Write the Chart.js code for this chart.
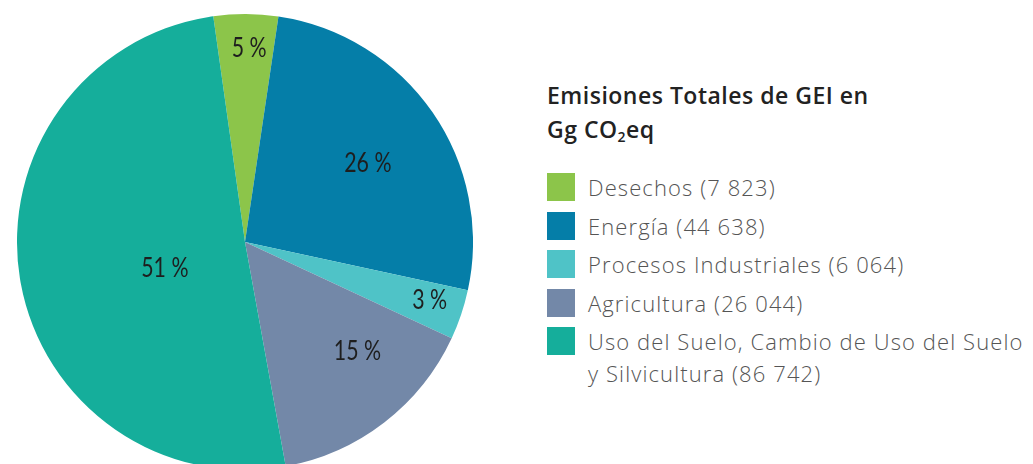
<!DOCTYPE html>
<html>
<head>
<meta charset="utf-8">
<script src="https://cdn.jsdelivr.net/npm/chart.js@4.4.0/dist/chart.umd.min.js"></script>
<style>
    html, body { margin: 0; padding: 0; background: #fff; overflow: hidden; width: 1033px; height: 464px; }
    #pieBox { position: absolute; left: 17px; top: 14px; width: 456px; height: 456px; }
    #legend { position: absolute; left: 547px; top: 78px; font-family: "Open Sans", sans-serif; }
    #legend .title { font-size: 23px; line-height: 34px; font-weight: 600; color: #222; margin-bottom: 27px; letter-spacing: 0.5px; white-space: nowrap; }
    #legend .title sub { font-size: 14px; vertical-align: -4px; line-height: 0; }
    #legend .row { display: flex; align-items: flex-start; height: 38.5px; }
    #legend .box { width: 28px; height: 28px; flex: none; margin-right: 13px; }
    #legend .txt { font-size: 22px; line-height: 32px; font-weight: 300; color: #555; white-space: pre; margin-top: -2px; letter-spacing: 1.1px; }
</style>
</head>
<body>
<div id="pieBox"><canvas id="pieCanvas"></canvas></div>
<div id="legend"></div>
<script>
    // ---------------- Data ---------------------------------------------------
    const categories = [
        "Desechos",
        "Energía",
        "Procesos Industriales",
        "Agricultura",
        "Uso del Suelo, Cambio de Uso del Suelo\ny Silvicultura"
    ] ;
    const emissions  = [ 7823, 44638, 6064, 26044, 86742 ] ;
    const pctLabels  = [ 5, 26, 3, 15, 51 ] ;
    const colors     = [ '#8CC54A', '#057EA8', '#4FC3C7', '#7388A8', '#15AE9B' ] ;

    // label placement inside slices: fraction of radius, angle nudge (deg)
    const labelPos   = [ [0.85, 1], [0.64, 2], [0.85, -1], [0.69, -8], [0.37, -9] ] ;

    function fmtNum( v ) {
        return String( v ).replace( /\B(?=(\d{3})+(?!\d))/g, ' ' ) ;
    }

    // ---------------- Slice labels plugin ------------------------------------
    const sliceLabels = {
        id : 'sliceLabels',
        afterDatasetsDraw : function( chart ) {
            var ctx = chart.ctx ;
            var meta = chart.getDatasetMeta( 0 ) ;
            ctx.save() ;
            ctx.font = "400 26px Lato" ;
            ctx.fillStyle = "#1e1e1e" ;
            ctx.textAlign = "center" ;
            ctx.textBaseline = "middle" ;
            meta.data.forEach( function( arc, i ) {
                var p = arc.getProps( ['x','y','startAngle','endAngle','outerRadius'], true ) ;
                var a = ( p.startAngle + p.endAngle ) / 2 + labelPos[i][1] * Math.PI / 180 ;
                var r = p.outerRadius * labelPos[i][0] ;
                var x = p.x + Math.cos( a ) * r ;
                var y = p.y + Math.sin( a ) * r ;
                ctx.save() ;
                ctx.translate( x, y ) ;
                ctx.scale( 0.82, 1 ) ;
                ctx.fillText( pctLabels[i] + ' %', 0, 0 ) ;
                ctx.restore() ;
            } ) ;
            ctx.restore() ;
        }
    } ;

    const chart = new Chart( document.getElementById( 'pieCanvas' ), {
        type : 'pie',
        data : {
            labels : categories,
            datasets : [ {
                data : emissions,
                backgroundColor : colors,
                borderWidth : 0
            } ]
        },
        options : {
            responsive : true,
            maintainAspectRatio : false,
            animation : false,
            rotation : -8,
            layout : { padding : 0 },
            plugins : {
                legend : { display : false },
                tooltip : { enabled : false }
            }
        },
        plugins : [ sliceLabels ]
    } ) ;

    // ---------------- HTML legend --------------------------------------------
    var html = '<div class="title">Emisiones Totales de GEI en<br>Gg CO<sub>2</sub>eq</div>' ;
    chart.data.labels.forEach( function( lbl, i ) {
        html += '<div class="row"><div class="box" style="background:' + colors[i] + '"></div>' +
                '<div class="txt">' + lbl + ' (' + fmtNum( emissions[i] ) + ')</div></div>' ;
    } ) ;
    document.getElementById( 'legend' ).innerHTML = html ;
</script>
</body>
</html>
